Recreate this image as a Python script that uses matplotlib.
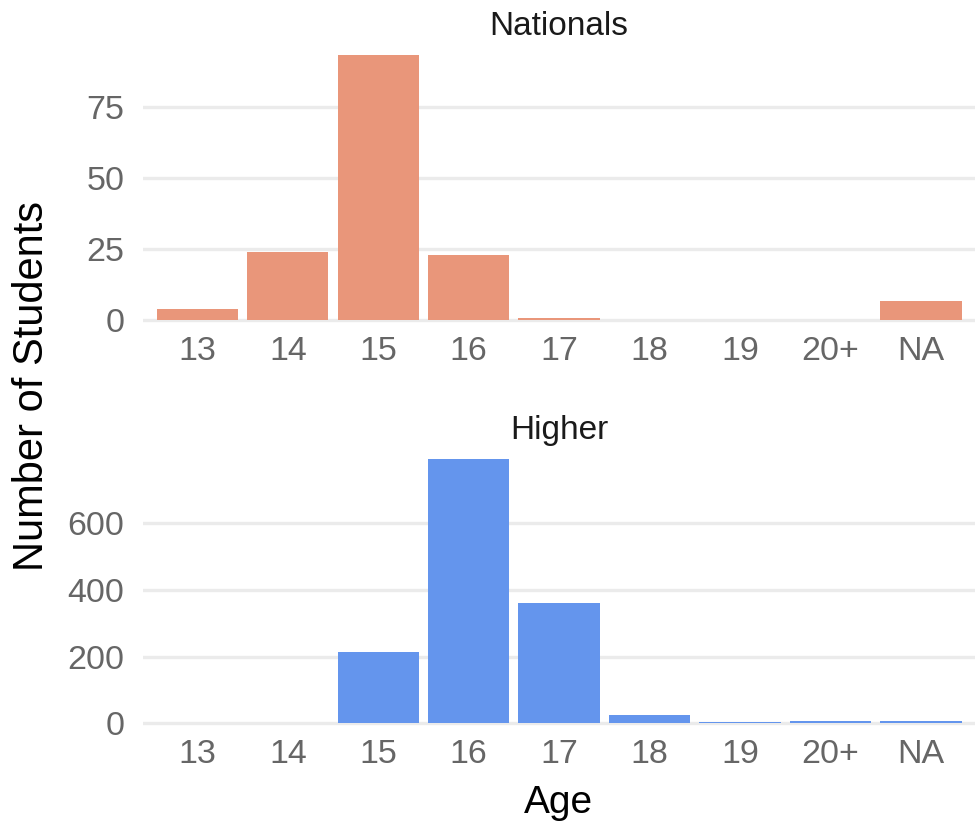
import matplotlib.pyplot as plt

plt.rcParams['font.family'] = ['Liberation Sans', 'DejaVu Sans']

# Student counts by age group
ages = ['13', '14', '15', '16', '17', '18', '19', '20+', 'NA']
nationals = [4, 24, 93, 23, 1, 0, 0, 0, 7]
higher = [0, 0, 213, 794, 360, 25, 3, 8, 8]

fig = plt.figure(figsize=(9.8, 8.22), dpi=100)
ax1 = fig.add_axes([0.146, 0.594, 0.849, 0.355])
ax2 = fig.add_axes([0.146, 0.104, 0.849, 0.354])

panels = [
    (ax1, nationals, '#E9967A', 'Nationals', [0, 25, 50, 75]),
    (ax2, higher, '#6495ED', 'Higher', [0, 200, 400, 600]),
]

for ax, vals, color, title, yticks in panels:
    x = range(len(ages))
    ax.bar(x, vals, width=0.9, color=color, zorder=2)
    top = max(vals)
    ax.set_ylim(-0.05 * top, top * 1.05)
    ax.set_xlim(-0.6, len(ages) - 0.4)
    ax.set_xticks(list(x))
    ax.set_xticklabels(ages)
    ax.set_yticks(yticks)
    ax.grid(axis='y', color='#EBEBEB', linewidth=2.4, zorder=0)
    ax.tick_params(axis='both', length=0, labelsize=24.5, labelcolor='#666666')
    ax.tick_params(axis='x', pad=1.5)
    ax.tick_params(axis='y', pad=13.5)
    for s in ax.spines.values():
        s.set_visible(False)
    ax.set_title(title, fontsize=24, color='#1A1A1A', pad=5)

# axis titles placed on the figure
fig.text(0.57, 0.011, 'Age', fontsize=28, ha='center', va='baseline')
fig.text(0.033, 0.53, 'Number of Students', rotation=90, fontsize=30,
         ha='center', va='center')

plt.savefig('out.png', dpi=100)
